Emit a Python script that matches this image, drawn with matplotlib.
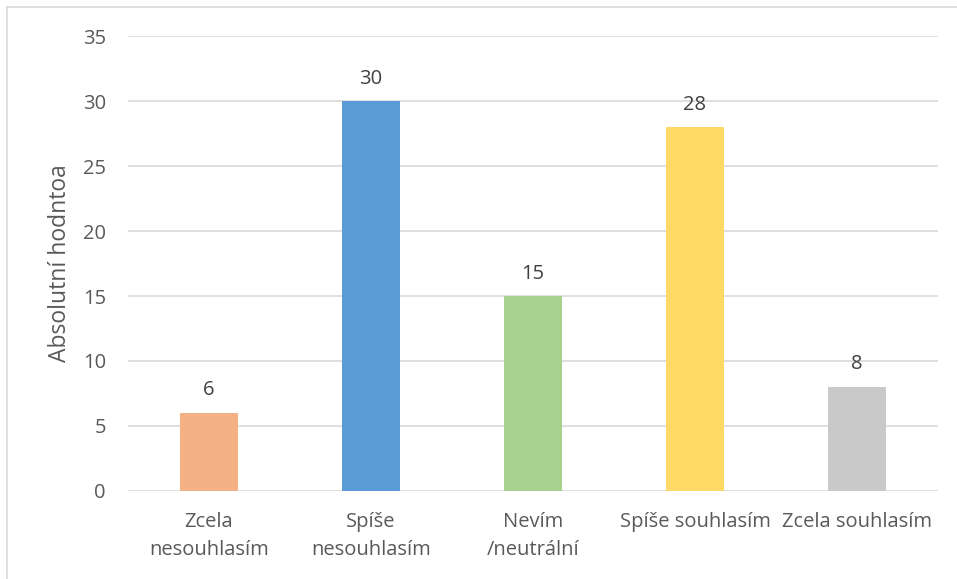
import matplotlib
matplotlib.use("Agg")
import matplotlib.pyplot as plt
from matplotlib.lines import Line2D

plt.rcParams['font.family'] = ['Open Sans', 'DejaVu Sans']

categories = ["Zcela\nnesouhlasím", "Spíše\nnesouhlasím", "Nevím\n/neutrální",
              "Spíše souhlasím", "Zcela souhlasím"]
values = [6, 30, 15, 28, 8]
colors = ["#F4B183", "#5B9BD5", "#A9D18E", "#FFD966", "#C9C9C9"]
yticks = [0, 5, 10, 15, 20, 25, 30, 35]

text_color = "#595959"
grid_color = "#D9D9D9"
fs = 14.5

fig = plt.figure(figsize=(9.57, 5.79), dpi=100)
ax = fig.add_axes([0.1338, 0.152, 0.8463, 0.7858])

x = range(len(categories))
bars = ax.bar(x, values, width=0.358, color=colors, zorder=3)

for b, v in zip(bars, values):
    ax.annotate(str(v), (b.get_x() + b.get_width() / 2, v),
                xytext=(0, 9), textcoords="offset points",
                ha="center", va="bottom", fontsize=fs, color="#404040")

ax.set_xlim(-0.5, len(categories) - 0.5)
ax.set_ylim(0, 35)
ax.set_yticks(yticks)
ax.set_xticks(list(x))
ax.set_xticklabels(categories, linespacing=1.55)
ax.tick_params(axis="both", length=0, labelsize=fs, colors=text_color)
ax.tick_params(axis="y", pad=16)
ax.tick_params(axis="x", pad=15)
ax.grid(axis="y", color=grid_color, linewidth=1.2, zorder=0)
for s in ax.spines.values():
    s.set_visible(False)

ax.set_ylabel("Absolutní hodntoa", fontsize=16.5, color=text_color, labelpad=8)

# chart area frame (top and left edges)
fig.add_artist(Line2D([7 / 957, 1.0], [1 - 7 / 579, 1 - 7 / 579],
                      transform=fig.transFigure, color=grid_color, linewidth=1.2))
fig.add_artist(Line2D([7 / 957, 7 / 957], [0.0, 1 - 7 / 579],
                      transform=fig.transFigure, color=grid_color, linewidth=1.2))

fig.savefig("out.png", dpi=100)
